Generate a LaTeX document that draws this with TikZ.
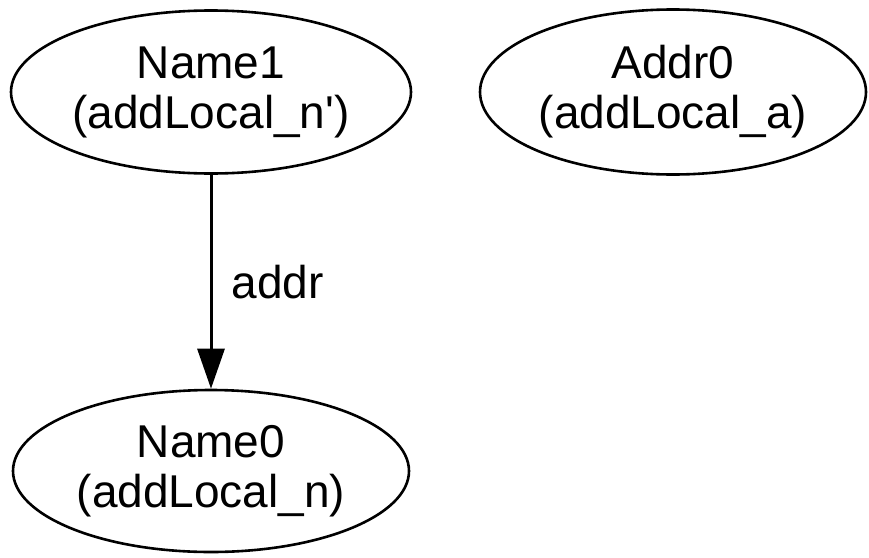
\documentclass[tikz,border=0pt]{standalone}
\usepackage{fontspec}
\setmainfont{Liberation Sans}
\usetikzlibrary{arrows.meta,shapes.geometric,positioning}

\begin{document}
\begin{tikzpicture}[x=1pt, y=-1pt, >={Triangle[length=40pt,width=27pt]},
  state/.style={draw, ellipse, line width=2.6pt, inner sep=0pt, align=center,
    font=\fontsize{46}{50}\selectfont}]
  \useasboundingbox[fill=white] (0,0) rectangle (869,557);
  % Nodes
  \node[state, minimum width=400pt, minimum height=163pt] (name1) at (211,92) {Name1\\(addLocal\_n\textquotesingle)};
  \node[state, minimum width=386pt, minimum height=165pt] (addr0) at (673,92) {Addr0\\(addLocal\_a)};
  \node[state, minimum width=396pt, minimum height=162pt] (name0) at (211,471) {Name0\\(addLocal\_n)};
  % Edge
  \draw[->, line width=3pt] (name1) -- (name0)
       node[midway, right=16pt, font=\fontsize{46}{50}\selectfont] (lbl) {addr};
\end{tikzpicture}
\end{document}
